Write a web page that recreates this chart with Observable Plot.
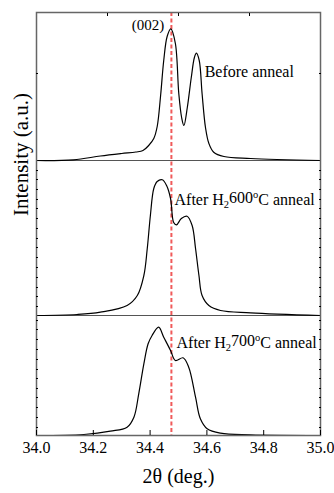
<!DOCTYPE html>
<html><head><meta charset="utf-8">
<script src="https://cdn.jsdelivr.net/npm/d3@7"></script>
<script src="https://cdn.jsdelivr.net/npm/@observablehq/plot@0.6"></script>
<style>
body{margin:0;background:#fff;}
svg{display:block;}
#chart svg, #chart svg text{font-family:'Liberation Serif','Times New Roman',Times,serif !important;}
</style>
</head><body><div id="chart"></div>
<script>
// --- data ---
const seriesNames = ["Before anneal", "After H2600oC anneal", "After H2700oC anneal"];
const seriesOffsets = [275, 120, 0];

const xBefore = [34.000,34.130,34.225,34.300,34.350,34.375,34.395,34.413,34.425,34.437,34.448,34.460,34.473,34.489,34.501,34.511,34.519,34.531,34.545,34.556,34.563,34.573,34.583,34.595,34.607,34.624,34.660,34.754,35.000];
const yBefore = [0,0.7,4.5,7,8.5,10,15,22,34,65,100,124,131.7,117,67,43,35,53,83,103,107.3,100,67,33,17,8.3,4,2,0];

const x600 = [34.000,34.143,34.225,34.319,34.355,34.378,34.390,34.401,34.413,34.425,34.443,34.458,34.472,34.483,34.493,34.510,34.530,34.548,34.560,34.572,34.583,34.607,34.648,34.754,35.000];
const y600 = [0,1,3.3,10,20,40,67,100,127,134,135.7,130,117,93,90.7,97,99.3,90,67,40,20,10,5,2.7,0];

const x700 = [34.000,34.167,34.260,34.319,34.343,34.360,34.378,34.393,34.407,34.430,34.448,34.472,34.489,34.516,34.536,34.560,34.577,34.601,34.648,34.754,35.000];
const y700 = [0,1,4.3,8.3,18.3,41.7,71.7,91.7,100,108.3,98.3,85,75,77.7,68.3,38.3,16.7,6.7,2.3,0.7,0];

const peakPosition = 34.475;
const peakLabel = "(002)";
const peakLabelX = 34.393, peakLabelY = 410;

const labelX = [34.592, 34.486, 34.493];
const labelY = [364, 236, 93];

const xTicks = [34.0, 34.2, 34.4, 34.6, 34.8, 35.0];
const xTopTicks = [34.25, 34.5, 34.75];
const yMinorTicks = [362, 265,256,246,236,227,217,207,197,188,178,168,158,148,139,129, 115,106,96,86,76,66,57,47,38,28,18,8];

const xLabel = "2θ (deg.)";
const yLabel = "Intensity (a.u.)";

// --- build table ---
const xs = [xBefore, x600, x700];
const ys = [yBefore, y600, y700];
const rows = [];
seriesNames.forEach((name, s) => {
  xs[s].forEach((x, i) => rows.push({series: name, x, y: seriesOffsets[s] + ys[s][i]}));
});
const labels = seriesNames.map((name, s) => ({text: name, x: labelX[s], y: labelY[s]}));

const font = "'Liberation Serif', 'Times New Roman', Times, serif";

const chart = Plot.plot({
  width: 334, height: 493,
  marginLeft: 36, marginRight: 14, marginTop: 12, marginBottom: 58,
  style: {fontFamily: font, background: "#fff", color: "#000"},
  x: {domain: [34, 35]},
  y: {domain: [0, 423]},
  marks: [
    Plot.ruleY([seriesOffsets[0], seriesOffsets[1]], {stroke: "#555", strokeWidth: 1.2}),
    Plot.ruleX([peakPosition], {stroke: "#f05a5a", strokeWidth: 2, strokeDasharray: "4,2.5"}),
    Plot.line(rows, {x: "x", y: "y", z: "series", stroke: "#000", strokeWidth: 1.2, curve: "catmull-rom"}),
    Plot.frame({stroke: "#666", strokeWidth: 1.5}),
    Plot.axisX({anchor: "bottom", ticks: xTicks, tickSize: 0, tickPadding: 6, tickFormat: d3.format(".1f"), fontSize: 16, fontFamily: font, label: null}),
    Plot.axisX({anchor: "bottom", ticks: xTicks, tickSize: -5, tickFormat: () => "", label: null}),
    Plot.axisX({anchor: "top", ticks: xTopTicks, tickSize: -3, tickFormat: () => "", label: null}),
    Plot.axisY({anchor: "left", ticks: yMinorTicks, tickSize: -2, tickFormat: () => "", label: null}),
    Plot.axisY({anchor: "right", ticks: yMinorTicks, tickSize: -2, tickFormat: () => "", label: null}),
    Plot.text([peakLabel], {x: peakLabelX, y: peakLabelY, text: d => d, fontSize: 15, fontFamily: font}),
    Plot.text(labels, {x: "x", y: "y", text: "text", textAnchor: "start", fontSize: 16, fontFamily: font}),
    Plot.text([xLabel], {frameAnchor: "bottom", dy: 47, text: d => d, fontSize: 20, fontFamily: font}),
    Plot.text([yLabel], {frameAnchor: "left", rotate: -90, dx: -15, dy: -8, text: d => d, fontSize: 21, fontFamily: font})
  ]
});

// subscript 2 and superscript o as real text spans
d3.select(chart).selectAll("text").each(function() {
  const t = this.textContent;
  const m = t.match(/^(After H)2(\d+)o(C anneal)$/);
  if (!m) return;
  const sel = d3.select(this);
  sel.text(null);
  sel.append("tspan").text(m[1]);
  sel.append("tspan").attr("dy", "0.3em").attr("font-size", "10.5").text("2");
  sel.append("tspan").attr("dy", "-0.3em").text(m[2]);
  sel.append("tspan").attr("dy", "-0.45em").attr("font-size", "10.5").text("o");
  sel.append("tspan").attr("dy", "0.45em").text(m[3]);
});

document.getElementById("chart").appendChild(chart);
</script>
</body></html>
